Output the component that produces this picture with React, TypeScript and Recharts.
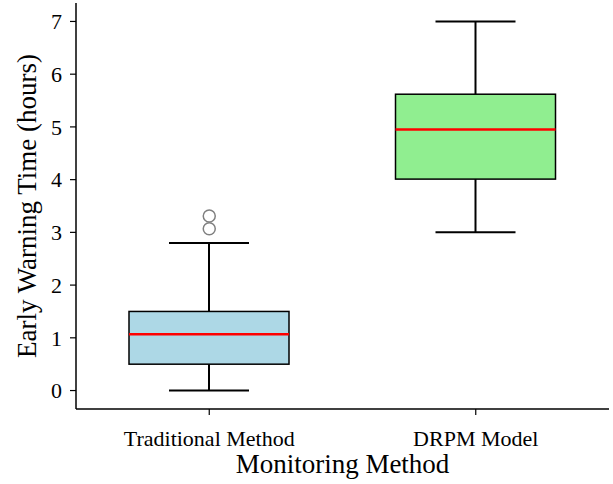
import { ComposedChart, Bar, Line, XAxis, YAxis } from 'recharts'

const methods = ['Traditional Method', 'DRPM Model']
const whiskerLow = [0, 3.0]
const q1 = [0.5, 4.01]
const median = [1.07, 4.95]
const q3 = [1.5, 5.62]
const whiskerHigh = [2.8, 7.0]
const outlierA = [3.31, null]
const outlierB = [3.07, null]
const boxColors = ['#ADD8E6', '#90EE90']
const yTicks = [0, 1, 2, 3, 4, 5, 6, 7]

const data = methods.map((name, i) => ({
  name,
  range: [whiskerLow[i], whiskerHigh[i]],
  lo: whiskerLow[i],
  q1: q1[i],
  med: median[i],
  q3: q3[i],
  hi: whiskerHigh[i],
  outA: outlierA[i],
  outB: outlierB[i],
  color: boxColors[i],
}))

const FONT = '"Liberation Serif", "Times New Roman", serif'

// draws the whole box from the bar's own [lo, hi] geometry
function BoxShape(props: any) {
  const { x, y, width, height, payload } = props
  const { lo, hi } = payload
  const unit = height / (hi - lo)
  const py = (v: number) => y + (hi - v) * unit
  const cx = x + width / 2
  const cap = width / 4
  return (
    <g>
      <line x1={cx} x2={cx} y1={py(hi)} y2={py(payload.q3)} stroke="#000" strokeWidth={2} />
      <line x1={cx} x2={cx} y1={py(payload.q1)} y2={py(lo)} stroke="#000" strokeWidth={2} />
      <line x1={cx - cap} x2={cx + cap} y1={py(hi)} y2={py(hi)} stroke="#000" strokeWidth={2} />
      <line x1={cx - cap} x2={cx + cap} y1={py(lo)} y2={py(lo)} stroke="#000" strokeWidth={2} />
      <rect
        x={x}
        y={py(payload.q3)}
        width={width}
        height={py(payload.q1) - py(payload.q3)}
        fill={payload.color}
        stroke="#000"
        strokeWidth={1.5}
      />
      <line x1={x} x2={x + width} y1={py(payload.med)} y2={py(payload.med)} stroke="#FF0000" strokeWidth={2.5} />
    </g>
  )
}

const outlierDot = { r: 6, stroke: '#808080', strokeWidth: 1.5, fill: 'none' }

export default function App() {
  return (
    <div style={{ position: 'absolute', left: 0, top: 0, background: '#fff' }}>
      <ComposedChart
        width={613}
        height={484}
        data={data}
        margin={{ top: 3, right: 4, bottom: 0, left: 0 }}
        style={{ fontFamily: FONT }}
      >
        <XAxis
          dataKey="name"
          height={75}
          tickSize={6}
          tickMargin={15}
          axisLine={{ stroke: '#000', strokeWidth: 1.5 }}
          tickLine={{ stroke: '#000', strokeWidth: 1.2 }}
          tick={{ fill: '#000', fontSize: 22, fontFamily: FONT }}
          label={{ value: 'Monitoring Method', position: 'insideBottom', offset: 11, fill: '#000', fontSize: 27, fontFamily: FONT }}
        />
        <YAxis
          type="number"
          domain={[-0.35, 7.35]}
          ticks={yTicks}
          allowDataOverflow
          width={76}
          tickSize={6}
          tickMargin={8}
          axisLine={{ stroke: '#000', strokeWidth: 1.5 }}
          tickLine={{ stroke: '#000', strokeWidth: 1.2 }}
          tick={{ fill: '#000', fontSize: 22, fontFamily: FONT }}
          label={{ value: 'Early Warning Time (hours)', angle: -90, position: 'center', dx: -12, fill: '#000', fontSize: 27, fontFamily: FONT }}
        />
        <Bar dataKey="range" barSize={160} shape={<BoxShape />} isAnimationActive={false} />
        <Line dataKey="outA" stroke="none" dot={outlierDot} activeDot={false} isAnimationActive={false} />
        <Line dataKey="outB" stroke="none" dot={outlierDot} activeDot={false} isAnimationActive={false} />
      </ComposedChart>
    </div>
  )
}
